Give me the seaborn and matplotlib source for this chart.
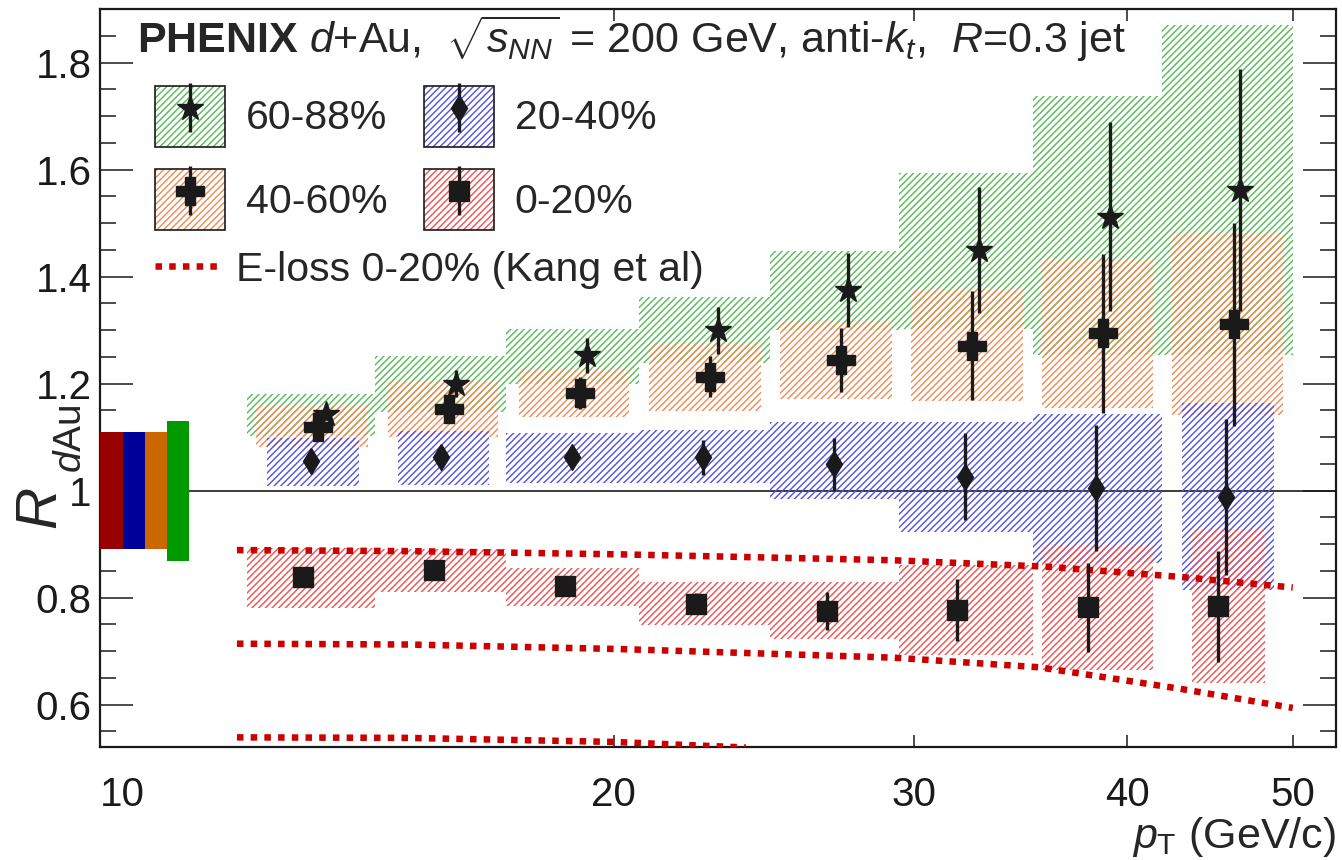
import numpy as np
import pandas as pd
import seaborn as sns
import matplotlib
matplotlib.use('Agg')
import matplotlib.pyplot as plt
from matplotlib.patches import Patch
from matplotlib.lines import Line2D
from matplotlib.container import ErrorbarContainer
from matplotlib.legend_handler import HandlerTuple, HandlerErrorbar
from matplotlib.ticker import FixedLocator, NullLocator, MultipleLocator, FuncFormatter

# ---- data ----
bin_edges = [12.2, 14.5, 17.3, 20.7, 24.7, 29.4, 35.2, 41.9, 50.0]

# 60-88%
pt_6088 = [13.56, 16.17, 19.30, 23.02, 27.45, 32.74, 39.05, 46.59]
r_6088 = [1.144, 1.200, 1.253, 1.300, 1.375, 1.450, 1.512, 1.562]
stat_6088 = [0.008, 0.025, 0.033, 0.044, 0.070, 0.118, 0.176, 0.226]
sys_lo_6088 = [1.102, 1.147, 1.200, 1.238, 1.300, 1.303, 1.253, 1.253]
sys_hi_6088 = [1.180, 1.251, 1.303, 1.362, 1.448, 1.593, 1.737, 1.870]
box_x0_6088 = [12.2, 14.5, 17.3, 20.7, 24.7, 29.4, 35.2, 41.9]
box_x1_6088 = [14.5, 17.3, 20.7, 24.7, 29.4, 35.2, 41.9, 50.0]

# 40-60%
pt_4060 = [13.42, 16.01, 19.11, 22.78, 27.18, 32.43, 38.70, 46.17]
r_4060 = [1.119, 1.152, 1.183, 1.213, 1.244, 1.271, 1.294, 1.311]
stat_4060 = [0.010, 0.012, 0.030, 0.038, 0.060, 0.102, 0.148, 0.190]
sys_lo_4060 = [1.081, 1.100, 1.138, 1.149, 1.172, 1.168, 1.155, 1.141]
sys_hi_4060 = [1.158, 1.205, 1.227, 1.275, 1.317, 1.375, 1.431, 1.481]
box_x0_4060 = [12.35, 14.74, 17.59, 20.98, 25.03, 29.87, 35.64, 42.50]
box_x1_4060 = [14.35, 17.12, 20.43, 24.40, 29.11, 34.73, 41.38, 49.36]

# 20-40%
pt_2040 = [13.29, 15.85, 18.91, 22.56, 26.92, 32.11, 38.32, 45.70]
r_2040 = [1.055, 1.062, 1.062, 1.062, 1.049, 1.026, 1.005, 0.988]
stat_2040 = [0.008, 0.010, 0.015, 0.033, 0.049, 0.081, 0.117, 0.146]
sys_lo_2040 = [1.008, 1.010, 1.015, 1.015, 0.984, 0.923, 0.864, 0.814]
sys_hi_2040 = [1.099, 1.111, 1.107, 1.113, 1.129, 1.129, 1.144, 1.164]
box_x0_2040 = [12.52, 14.94, 17.3, 20.7, 24.7, 29.4, 35.2, 43.08]
box_x1_2040 = [14.18, 16.91, 20.7, 24.7, 29.4, 35.2, 41.9, 48.77]

# 0-20%
pt_0020 = [13.15, 15.69, 18.72, 22.34, 26.66, 31.77, 37.91, 45.23]
r_0020 = [0.838, 0.851, 0.822, 0.789, 0.775, 0.777, 0.782, 0.784]
stat_0020 = [0.005, 0.005, 0.006, 0.020, 0.035, 0.057, 0.083, 0.104]
sys_lo_0020 = [0.780, 0.811, 0.784, 0.749, 0.723, 0.693, 0.665, 0.640]
sys_hi_0020 = [0.893, 0.891, 0.856, 0.830, 0.830, 0.861, 0.896, 0.928]
box_x0_0020 = [12.2, 14.5, 17.3, 20.7, 24.7, 29.4, 35.64, 43.67]
box_x1_0020 = [14.5, 17.3, 20.7, 24.7, 29.4, 35.2, 41.38, 48.18]

# E-loss calculation 0-20% (Kang et al), three curves
eloss_pt_hi = [12.03, 15.16, 20.18, 29.15, 35.87, 42.91, 50.0]
eloss_r_hi = [0.889, 0.887, 0.881, 0.870, 0.858, 0.839, 0.819]
eloss_pt_mid = [12.03, 15.16, 20.18, 29.15, 35.5, 42.91, 50.0]
eloss_r_mid = [0.714, 0.7125, 0.704, 0.688, 0.670, 0.630, 0.594]
eloss_pt_lo = [12.03, 15.16, 20.0, 23.9]
eloss_r_lo = [0.539, 0.538, 0.5305, 0.520]

# global normalisation uncertainties (0-20, 20-40, 40-60, 60-88)
norm_edges = [10.0, 10.31, 10.625, 10.945, 11.275]
norm_unc = [0.109, 0.109, 0.109, 0.131]
norm_colors = ['#990000', '#000099', '#cc6600', '#009900']

labels = ['60-88%', '40-60%', '20-40%', '0-20%']
markers = ['*', 'P', 'd', 's']
msizes = [19, 19.5, 13, 14.5]
hatch_colors = ['#55bb55', '#f08a50', '#5050e8', '#f05050']
x_ticks = [10, 20, 30, 40, 50]

# ---- style ----
sns.set_theme(style='ticks')
plt.rcParams['font.family'] = ['Liberation Sans', 'DejaVu Sans']
plt.rcParams['mathtext.fontset'] = 'custom'
plt.rcParams['mathtext.rm'] = 'Liberation Sans'
plt.rcParams['mathtext.it'] = 'Liberation Sans:italic'
plt.rcParams['mathtext.bf'] = 'Liberation Sans:bold'
plt.rcParams['hatch.linewidth'] = 1.0
HATCH = '/////'
FS = 29.5

fig = plt.figure(figsize=(13.42, 8.6), dpi=100)
ax = fig.add_axes([0.0745, 0.1314, 0.9210, 0.8581])

series = [
    (pt_6088, r_6088, stat_6088, sys_lo_6088, sys_hi_6088, box_x0_6088, box_x1_6088),
    (pt_4060, r_4060, stat_4060, sys_lo_4060, sys_hi_4060, box_x0_4060, box_x1_4060),
    (pt_2040, r_2040, stat_2040, sys_lo_2040, sys_hi_2040, box_x0_2040, box_x1_2040),
    (pt_0020, r_0020, stat_0020, sys_lo_0020, sys_hi_0020, box_x0_0020, box_x1_0020),
]

# systematic boxes
for i, (pt, r, st, lo, hi, x0, x1) in enumerate(series):
    lo = np.array(lo); hi = np.array(hi)
    x0 = np.array(x0); x1 = np.array(x1)
    ax.bar(x0, hi - lo, width=x1 - x0, bottom=lo, align='edge',
           facecolor='none', edgecolor=hatch_colors[i], hatch=HATCH,
           linewidth=0, zorder=2 + i * 0.1)

# normalisation boxes + unity line
nu = np.array(norm_unc)
ne = np.array(norm_edges)
ax.bar(ne[:-1], 2 * nu, width=np.diff(ne), bottom=1 - nu, align='edge',
       color=norm_colors, linewidth=0, zorder=3)
ax.plot([norm_edges[-1], 53], [1, 1], color='k', lw=1.2, zorder=1.5)

# theory curves
eloss = pd.concat([
    pd.DataFrame({'pt': eloss_pt_hi, 'r': eloss_r_hi, 'curve': 'hi'}),
    pd.DataFrame({'pt': eloss_pt_mid, 'r': eloss_r_mid, 'curve': 'mid'}),
    pd.DataFrame({'pt': eloss_pt_lo, 'r': eloss_r_lo, 'curve': 'lo'}),
])
DOT = (0, (1, 1.1))
for name, grp in eloss.groupby('curve', sort=False):
    sns.lineplot(data=grp, x='pt', y='r', ax=ax, color='#cc0000', lw=4.7,
                 linestyle=DOT, dash_capstyle='butt', estimator=None,
                 sort=False, legend=False, zorder=4)

# data points
containers = []
for i, (pt, r, st, lo, hi, x0, x1) in enumerate(series):
    c = ax.errorbar(pt, r, yerr=st, fmt=markers[i], color='k', ms=msizes[i],
                    elinewidth=2.4, capsize=0, zorder=6)
    containers.append(c)

# axes
ax.set_xscale('log')
ax.set_xlim(10, 53)
ax.set_ylim(0.521, 1.9)
ax.xaxis.set_major_locator(FixedLocator(x_ticks))
ax.xaxis.set_minor_locator(NullLocator())
ax.xaxis.set_major_formatter(FuncFormatter(lambda v, p: f'{v:g}'))
ax.yaxis.set_major_locator(MultipleLocator(0.2))
ax.yaxis.set_minor_locator(MultipleLocator(0.05))
ax.yaxis.set_major_formatter(FuncFormatter(lambda v, p: f'{round(v, 2):g}'))
ax.tick_params(axis='y', which='major', direction='in', length=23.5, width=1.1,
               left=True, right=True, labelsize=29, pad=6, colors='k')
ax.tick_params(axis='y', which='minor', direction='in', length=11.5, width=1.1,
               left=True, right=True, colors='k')
ax.tick_params(axis='x', which='major', direction='in', length=8.5, width=1.1,
               top=True, bottom=True, labelsize=29, pad=21, colors='k')
for sp in ax.spines.values():
    sp.set_color('k')
    sp.set_linewidth(1.6)

# y title drawn as two rotated pieces (big subscript like the original)
ax.set_ylabel('')
ax.text(-0.0348, 0.294, r'$R$', transform=ax.transAxes, fontsize=42,
        rotation=90, rotation_mode='anchor', ha='left', va='baseline')
ax.text(-0.0150, 0.371, r'$d$Au', transform=ax.transAxes, fontsize=28,
        rotation=90, rotation_mode='anchor', ha='left', va='baseline')

ax.set_xlabel(r'$p_{\mathrm{T}}$ (GeV/c)', fontsize=31)
ax.xaxis.label.set_ha('right')
ax.xaxis.label.set_va('center')
ax.xaxis.set_label_coords(1.0, -0.122)

ax.text(0.030, 0.9404,
        r'$\mathbf{PHENIX}$ $d$+Au,  $\sqrt{s_{NN}}$ = 200 GeV, anti-$k_t$,  $R$=0.3 jet',
        transform=ax.transAxes, fontsize=31, va='baseline', ha='left', zorder=10)

# legends
handles = []
for i in range(4):
    hp = Patch(facecolor='white', edgecolor=hatch_colors[i], hatch=HATCH, lw=0)
    bp = Patch(facecolor='none', edgecolor='k', lw=1.2)
    handles.append((hp, bp, containers[i]))
leg1 = ax.legend(handles, labels, ncol=2, loc='upper left',
                 bbox_to_anchor=(0.0445, 0.8957), frameon=False, fontsize=FS,
                 handlelength=1.72, handleheight=1.9, handletextpad=0.5,
                 columnspacing=0.88, labelspacing=0.55, borderpad=0,
                 borderaxespad=0,
                 handler_map={tuple: HandlerTuple(ndivide=1, pad=0),
                              ErrorbarContainer: HandlerErrorbar(yerr_size=0.6)})
ax.add_artist(leg1)
th = Line2D([], [], color='#cc0000', lw=4.7, ls=DOT, dash_capstyle='butt')
ax.legend([th], ['E-loss 0-20% (Kang et al)'], loc='center left',
          bbox_to_anchor=(0.0445, 0.647), frameon=False, fontsize=FS,
          handlelength=1.58, handletextpad=0.39, borderpad=0, borderaxespad=0)

fig.canvas.draw()
ax.get_xticklabels()[0].set_ha('left')

fig.savefig('out.png', dpi=100)
